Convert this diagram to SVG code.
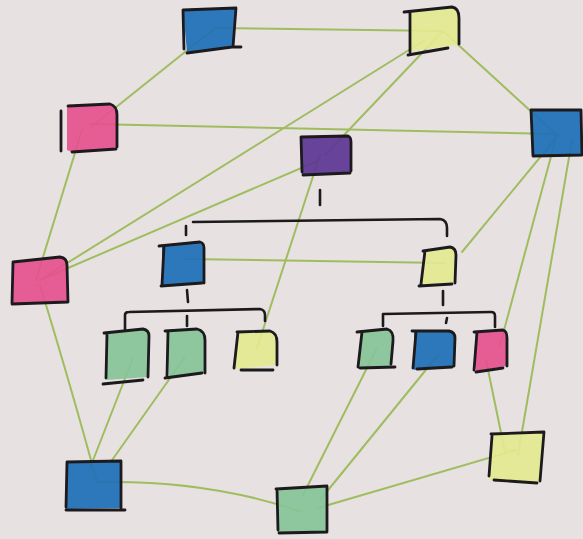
<svg xmlns="http://www.w3.org/2000/svg" width="583" height="539" viewBox="0 0 583 539">
<style>
.bg{fill:#e7e1e2}
.ol{fill:none;stroke:#1c1a1c;stroke-width:2.8;stroke-linecap:round;stroke-linejoin:round}
.br{fill:none;stroke:#1c1a1c;stroke-width:2.6;stroke-linecap:round;stroke-linejoin:round}
.cn{fill:none;stroke:#9fbd5f;stroke-width:2;stroke-linecap:round}
.blue{fill:#1d6fb6;fill-opacity:.92}
.pink{fill:#e6508e;fill-opacity:.92}
.yel{fill:#e3ea8f;fill-opacity:.9}
.grn{fill:#84c497;fill-opacity:.9}
.pur{fill:#5e3794;fill-opacity:.93}
</style>
<rect class="bg" x="0" y="0" width="583" height="539"/>
<g id="connectors">
<line class="cn" x1="215" y1="28" x2="443" y2="31"/>
<line class="cn" x1="215" y1="28" x2="90" y2="128"/>
<line class="cn" x1="90" y1="124" x2="558" y2="134"/>
<line class="cn" x1="443" y1="31" x2="558" y2="136"/>
<line class="cn" x1="425" y1="40" x2="40" y2="280"/>
<line class="cn" x1="443" y1="31" x2="325" y2="155"/>
<line class="cn" x1="320" y1="155" x2="257" y2="348"/>
<line class="cn" x1="320" y1="160" x2="40" y2="280"/>
<line class="cn" x1="82" y1="130" x2="36" y2="280"/>
<path class="cn" d="M40,285 Q72,390 97,482"/>
<line class="cn" x1="185" y1="259" x2="445" y2="263"/>
<line class="cn" x1="462" y1="252" x2="556" y2="138"/>
<line class="cn" x1="556" y1="138" x2="500" y2="345"/>
<line class="cn" x1="572" y1="140" x2="518" y2="455"/>
<line class="cn" x1="133" y1="358" x2="90" y2="468"/>
<line class="cn" x1="185" y1="357" x2="110" y2="463"/>
<path class="cn" d="M100,482 Q210,480 302,512"/>
<line class="cn" x1="377" y1="348" x2="303" y2="495"/>
<line class="cn" x1="438" y1="355" x2="320" y2="500"/>
<line class="cn" x1="516" y1="450" x2="318" y2="508"/>
<line class="cn" x1="486" y1="360" x2="505" y2="452"/>
<line class="cn" x1="505" y1="452" x2="516" y2="450"/>
</g>
<g id="brackets">
<path class="br" d="M320,190 L320,205"/>
<path class="br" d="M193,222 L440,219 Q447,220 447,228 L447,236"/>
<path class="br" d="M186,226 L186,235"/>
<path class="br" d="M187,290 L188,302"/>
<path class="br" d="M125,330 L125,315 Q125,312 129,312 L260,309 Q265,310 265,315 L265,321"/>
<path class="br" d="M187,316 L187,326"/>
<path class="br" d="M443,291 L443,305"/>
<path class="br" d="M383,326 L383,314 L491,312 Q495,312 495,316 L495,327"/>
<path class="br" d="M447,318 L446,323"/>
</g>
<g id="n1">
<path class="blue" d="M183,10 L236,8 L233,47 L187,52 Z"/>
<path class="ol" d="M183,10 L236,8 L233,47 L241,47 M183,10 L184,49 M187,53 L232,47"/>
</g>
<g id="n2">
<path class="yel" d="M409,12 L452,7 Q459,8 459,18 L459,45 L420,50 L410,52 Z"/>
<path class="ol" d="M404,12 L452,7 Q459,8 459,18 L459,44 M410,12 L410,52 M408,55 L448,48"/>
</g>
<g id="n3">
<path class="pink" d="M67,106 L110,104 Q117,106 117,115 L117,148 L72,152 L67,150 Z"/>
<path class="ol" d="M61,111 L61,151 M68,106 L110,104 Q117,106 117,115 L117,147 M72,152 L116,149"/>
</g>
<g id="n4">
<path class="blue" d="M531,110 L581,109 L582,156 L532,156 Z"/>
<path class="ol" d="M531,110 L581,110 L582,155 L533,156 Z"/>
</g>
<g id="n5">
<path class="pur" d="M301,137 L348,136 Q351,137 351,142 L351,172 L302,175 Z"/>
<path class="ol" d="M301,137 L348,136 Q351,137 351,142 L351,171 M301,137 L302,172 M303,175 L350,173"/>
</g>
<g id="n6">
<path class="pink" d="M13,262 L60,257 Q67,258 67,265 L68,302 L13,304 Z"/>
<path class="ol" d="M13,262 L60,257 Q67,258 67,265 L68,302 M13,262 L12,303 M12,304 L68,302"/>
</g>
<g id="n7">
<path class="blue" d="M162,245 L200,242 Q204,243 204,248 L204,283 L162,286 Z"/>
<path class="ol" d="M159,246 L200,242 Q204,243 204,248 L204,283 M164,246 L162,285 M161,286 L202,283"/>
</g>
<g id="n8">
<path class="yel" d="M424,251 L450,247 Q456,248 456,255 L454,282 L421,285 Z"/>
<path class="ol" d="M423,251 L450,247 Q456,248 456,255 L455,283 M425,251 L421,284 M419,286 L452,284"/>
</g>
<g id="n9">
<path class="grn" d="M106,332 L143,329 Q149,330 149,336 L148,377 L107,380 Z"/>
<path class="ol" d="M104,333 L143,329 Q149,330 149,336 L148,377 M107,334 L106,378 M103,384 L143,380"/>
</g>
<g id="n10">
<path class="grn" d="M167,330 L197,329 Q205,331 205,340 L205,373 L169,377 Z"/>
<path class="ol" d="M165,331 L197,329 Q205,331 205,340 L205,373 M168,332 L167,376 M165,378 L202,373"/>
</g>
<g id="n11">
<path class="yel" d="M237,332 L270,331 Q277,333 277,342 L276,365 L238,369 L234,368 Z"/>
<path class="ol" d="M237,332 L270,331 Q277,333 277,342 L277,365 M238,332 L234,368 M241,370 L273,370"/>
</g>
<g id="n12">
<path class="grn" d="M361,331 L387,329 Q394,331 393,341 L390,366 L359,368 Z"/>
<path class="ol" d="M357,332 L387,329 Q394,331 393,341 L391,364 M362,332 L358,367 M360,368 L395,367"/>
</g>
<g id="n13">
<path class="blue" d="M414,332 L449,331 Q455,332 455,338 L454,366 L414,370 Z"/>
<path class="ol" d="M412,331 L449,331 Q455,332 455,338 L454,366 M416,332 L413,368 M417,369 L452,367"/>
</g>
<g id="n14">
<path class="pink" d="M476,331 L503,330 Q507,331 507,338 L507,366 L476,371 L474,360 Z"/>
<path class="ol" d="M474,332 L503,330 Q507,331 507,338 L507,366 M477,332 L474,370 M476,372 L503,368"/>
</g>
<g id="n15">
<path class="blue" d="M67,462 L121,461 L122,508 L66,509 Z"/>
<path class="ol" d="M67,462 L121,461 L121,508 M67,462 L66,507 M66,510 L125,510"/>
</g>
<g id="n16">
<path class="grn" d="M277,489 L327,486 L327,531 L278,533 Z"/>
<path class="ol" d="M276,489 L327,486 L327,531 M277,489 L278,530 M279,533 L327,532"/>
</g>
<g id="n17">
<path class="yel" d="M491,435 L544,432 L540,482 L489,480 Z"/>
<path class="ol" d="M491,434 L544,432 L540,481 M492,436 L489,476 M494,480 L537,483"/>
</g>
</svg>
